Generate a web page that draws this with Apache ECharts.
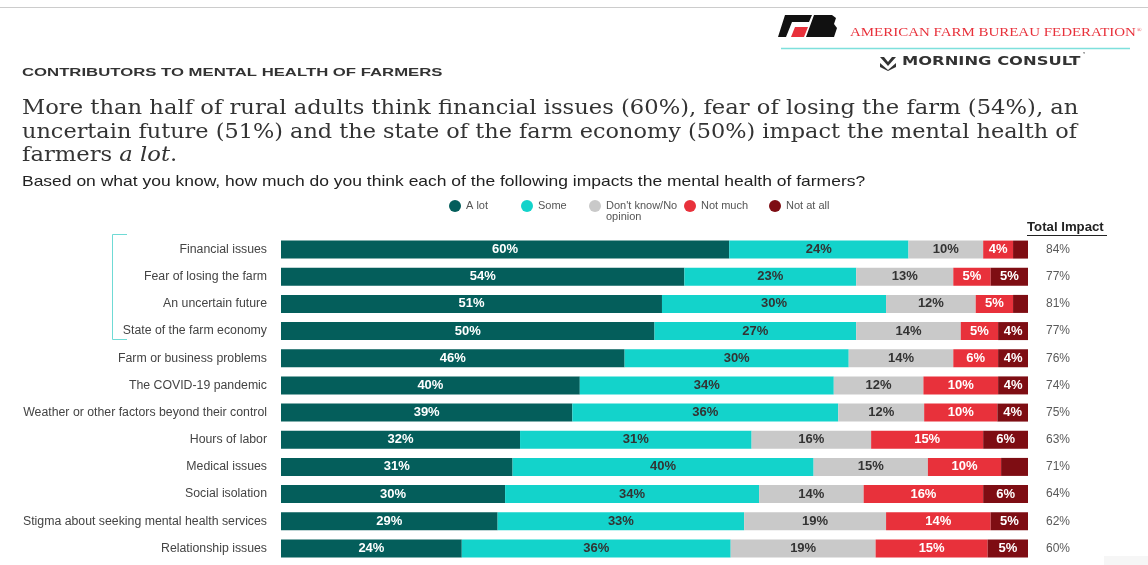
<!DOCTYPE html>
<html>
<head>
<meta charset="utf-8">
<script src="https://cdn.jsdelivr.net/npm/echarts@6/dist/echarts.min.js"></script>
<style>
html,body{margin:0;padding:0;background:#fff;}
#chart{width:1148px;height:565px;}
</style>
</head>
<body>
<div id="chart"></div>
<script>
// ---- DATA ----
var categories = ["Financial issues","Fear of losing the farm","An uncertain future","State of the farm economy","Farm or business problems","The COVID-19 pandemic","Weather or other factors beyond their control","Hours of labor","Medical issues","Social isolation","Stigma about seeking mental health services","Relationship issues"];
var seriesNames = ["A lot","Some","Don't know/No opinion","Not much","Not at all"];
var aLot      = [60,54,51,50,46,40,39,32,31,30,29,24.2];
var some      = [24,23,30,27,30,34,35.6,31,40.3,34,33,36];
var dontKnow  = [10,13,12,14,14,12,11.5,16,15.3,14,19,19.4];
var notMuch   = [4,5,5,5,6,10,9.8,15,9.8,16,14,15];
var notAtAll  = [2,5,2,4,4,4,4.1,6,3.6,6,5,5.4];
var totalImpact = ["84%","77%","81%","77%","76%","74%","75%","63%","71%","64%","62%","60%"];
// rows whose "Not at all" segment carries no printed label
var unlabeledNotAtAll = [0,2,8];

var colors = ["#045E5B","#13D3CB","#C9C9C9","#E8313B","#7E0D13"];
var labelColors = ["#ffffff","#333333","#333333","#ffffff","#ffffff"];
var values = [aLot, some, dontKnow, notMuch, notAtAll];
var legendCenters = [455, 527, 595, 690, 775];

var chart = echarts.init(document.getElementById('chart'), null, {renderer:'canvas'});

var series = values.map(function(arr, si){
  return {
    name: seriesNames[si],
    type: 'bar',
    stack: 'all',
    barWidth: 18,
    yAxisIndex: 0,
    itemStyle: {color: colors[si]},
    label: {
      show: true,
      position: 'inside',
      fontFamily: 'Liberation Sans, Arial',
      fontWeight: 'bold',
      fontSize: 13,
      color: labelColors[si],
      formatter: function(p){
        if (si === 4 && unlabeledNotAtAll.indexOf(p.dataIndex) >= 0) return '';
        return Math.round(p.value) + '%';
      }
    },
    emphasis: {disabled: true},
    data: arr
  };
});

var legends = seriesNames.map(function(n, i){
  var isTwo = (i === 2);
  return {
    left: legendCenters[i] - 6,
    top: isTwo ? 189.5 : 200,
    padding: 0,
    icon: 'circle',
    itemWidth: 12, itemHeight: 12,
    selectedMode: false,
    textStyle: {fontFamily: 'Liberation Sans, Arial', fontSize: 11, color: '#555555', lineHeight: isTwo ? 11 : undefined},
    data: [n],
    formatter: function(name){ return name === "Don't know/No opinion" ? " \nDon't know/No\nopinion" : name; }
  };
});

var option = {
  animation: false,
  backgroundColor: '#ffffff',
  grid: {left: 281, right: 120, top: 236, bottom: 3, containLabel: false},
  legend: legends,
  xAxis: {type: 'value', min: 0, max: 100, show: false},
  yAxis: [
    {
      type: 'category', inverse: true, data: categories,
      axisLine: {show: false}, axisTick: {show: false}, splitLine: {show: false},
      axisLabel: {margin: 14, fontFamily: 'Liberation Sans, Arial', fontSize: 12.3, color: '#444444'}
    },
    {
      type: 'category', inverse: true, position: 'right', data: totalImpact,
      axisLine: {show: false}, axisTick: {show: false}, splitLine: {show: false},
      axisLabel: {margin: 18, fontFamily: 'Liberation Sans, Arial', fontSize: 12, color: '#5a5a5a'}
    }
  ],
  series: series,
  graphic: [
    // top rule
    {type: 'line', shape: {x1: 0, y1: 7.5, x2: 1148, y2: 7.5}, style: {stroke: '#cccccc', lineWidth: 1}},
    // AFBF logo
    {type: 'polygon', shape: {points: [[785,15],[812,15],[809,22],[792,22],[786,37],[778,37]]}, style: {fill: '#111111'}},
    {type: 'polygon', shape: {points: [[795,27],[808,27],[804,37],[791,37]]}, style: {fill: '#E8313B'}},
    {type: 'polygon', shape: {points: [[814,15],[832,15],[836,18],[834,24],[837,28],[834,37],[806,37]]}, style: {fill: '#111111'}},
    {type: 'text', x: 850, y: 33, scaleX: 1.15, style: {text: 'AMERICAN FARM BUREAU FEDERATION', x: 0, y: 0, font: '13px "Liberation Serif", serif', fill: '#E8313B', verticalAlign: 'middle'}},
    {type: 'text', style: {text: '®', x: 1137, y: 30, font: '6px "Liberation Serif", serif', fill: '#E8313B', verticalAlign: 'middle'}},
    {type: 'line', shape: {x1: 781, y1: 48.5, x2: 1130, y2: 48.5}, style: {stroke: '#7EE0DC', lineWidth: 1.5}},
    // Morning Consult
    {type: 'polygon', shape: {points: [[880,57],[884,57],[888,62],[892,57],[896,57],[888,66]]}, style: {fill: '#333333'}},
    {type: 'polygon', shape: {points: [[880,63],[888,70],[896,63],[896,67],[888,71],[880,67]]}, style: {fill: '#333333'}},
    {type: 'text', x: 902, y: 62, scaleX: 1.36, style: {text: 'MORNING CONSULT', x: 0, y: 0, font: 'bold 12px "DejaVu Sans", sans-serif', fill: '#333333', verticalAlign: 'middle'}},
    {type: 'text', style: {text: '’', x: 1083, y: 56, font: '9px "Liberation Sans", sans-serif', fill: '#333333', verticalAlign: 'middle'}},
    // kicker
    {type: 'text', x: 22, y: 73, scaleX: 1.52, style: {text: 'CONTRIBUTORS TO MENTAL HEALTH OF FARMERS', x: 0, y: 0, font: 'bold 11px "Liberation Sans", Arial', fill: '#333333', verticalAlign: 'middle'}},
    // headline
    {type: 'text', x: 22, y: 109, scaleX: 1.133, style: {text: 'More than half of rural adults think financial issues (60%), fear of losing the farm (54%), an', x: 0, y: 0, font: '20px "DejaVu Serif", serif', fill: '#333333', verticalAlign: 'middle'}},
    {type: 'text', x: 22, y: 133, scaleX: 1.12, style: {text: 'uncertain future (51%) and the state of the farm economy (50%) impact the mental health of', x: 0, y: 0, font: '20px "DejaVu Serif", serif', fill: '#333333', verticalAlign: 'middle'}},
    {type: 'text', x: 22, y: 156, scaleX: 1.133, style: {
      text: '{n|farmers }{i|a lot}{n|.}', x: 0, y: 0, verticalAlign: 'middle',
      rich: {
        n: {fontFamily: 'DejaVu Serif', fontSize: 20, fill: '#333333', color: '#333333'},
        i: {fontFamily: 'DejaVu Serif', fontStyle: 'italic', fontSize: 20, fill: '#333333', color: '#333333'}
      }
    }},
    // question
    {type: 'text', x: 22, y: 182, scaleX: 1.165, style: {text: 'Based on what you know, how much do you think each of the following impacts the mental health of farmers?', x: 0, y: 0, font: '15px "Liberation Sans", Arial', fill: '#222222', verticalAlign: 'middle'}},
    // bracket
    {type: 'polyline', shape: {points: [[127,234.5],[112.5,234.5],[112.5,339.5],[127,339.5]]}, style: {stroke: '#6FDAD5', lineWidth: 1, fill: null}},
    // Total Impact header
    {type: 'text', x: 1027, y: 228, scaleX: 1.1, style: {text: 'Total Impact', x: 0, y: 0, font: 'bold 12px "Liberation Sans", Arial', fill: '#222222', verticalAlign: 'middle'}},
    {type: 'line', shape: {x1: 1027, y1: 235.5, x2: 1107, y2: 235.5}, style: {stroke: '#222222', lineWidth: 1}},
    // faint box bottom right
    {type: 'rect', shape: {x: 1104, y: 556, width: 44, height: 9}, style: {fill: '#f6f6f6'}}
  ]
};
chart.setOption(option);
</script>
</body>
</html>
